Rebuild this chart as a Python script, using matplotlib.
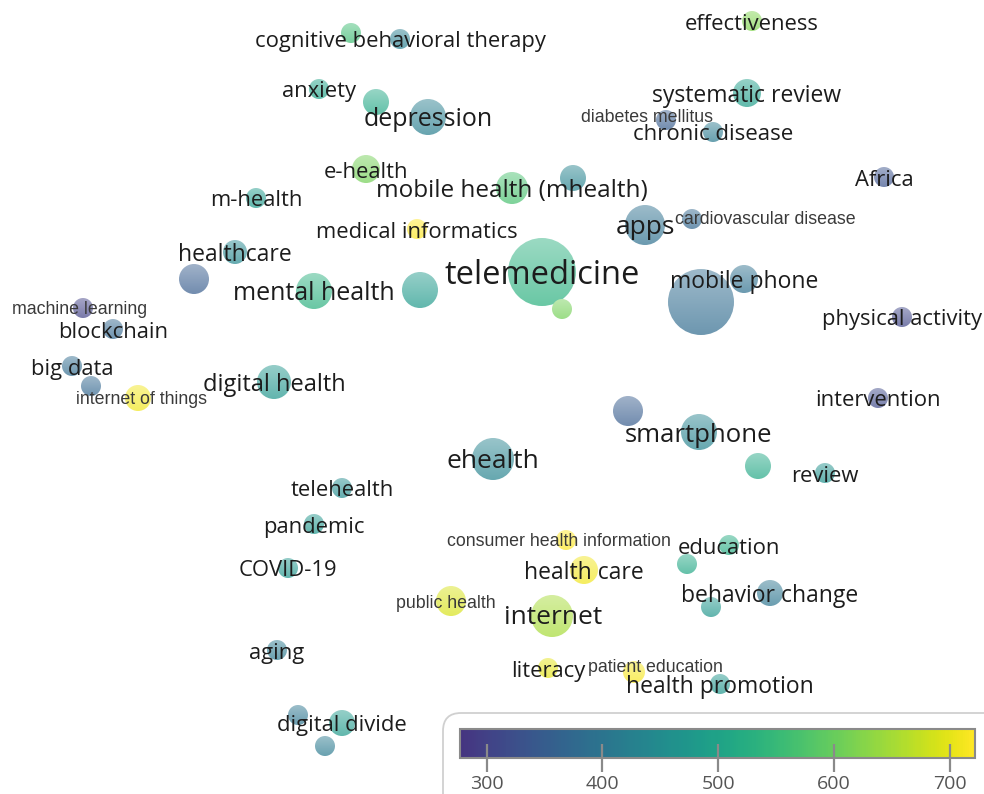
import numpy as np
import matplotlib
matplotlib.use('Agg')
import matplotlib.pyplot as plt
from matplotlib.patches import Circle, FancyBboxPatch
from matplotlib.colors import ListedColormap, Normalize
from matplotlib.cm import ScalarMappable

# --- keyword map (VOSviewer overlay style), coordinates ---
terms = [
    '', 'cognitive behavioral therapy', 'anxiety', '', 'depression',
    'e-health', 'm-health', 'medical informatics', 'healthcare', '',
    'mental health', '', 'machine learning', 'blockchain', 'big data',
    '', 'internet of things', 'digital health', 'telehealth', 'pandemic',
    'COVID-19', 'public health', 'aging', '', 'digital divide',
    '', 'effectiveness', 'systematic review', 'diabetes mellitus', 'chronic disease',
    'Africa', 'cardiovascular disease', 'apps', '', 'mobile health (mhealth)',
    'telemedicine', '', '', 'mobile phone', 'physical activity',
    'intervention', '', 'review', '', 'smartphone',
    'ehealth', 'consumer health information', 'health care', 'internet', 'literacy',
    'patient education', '', 'education', 'behavior change', '',
    'health promotion',
]
map_x = [
    351, 400, 319, 376, 428,
    366, 256, 417, 235, 194,
    314, 420, 83, 113, 72,
    91, 138, 274, 342, 314,
    288, 451, 277, 298, 342,
    325, 752, 747, 666, 713,
    884, 692, 645, 573, 512,
    542, 562, 701, 744, 902,
    878, 758, 825, 628, 699,
    493, 566, 584, 552, 548,
    634, 687, 729, 770, 711,
    720,
]
map_y = [
    33, 39, 89, 102, 117,
    169, 198, 229, 252, 279,
    291, 290, 308, 329, 366,
    386, 398, 382, 488, 524,
    568, 601, 650, 715, 723,
    746, 21, 93, 120, 132,
    177, 219, 225, 178, 188,
    272, 309, 302, 279, 317,
    398, 466, 473, 411, 432,
    459, 540, 570, 616, 668,
    672, 564, 545, 593, 607,
    684,
]
weight = [
    10, 10, 10, 13, 18,
    14, 10, 10, 12, 15,
    18, 18, 10, 10, 10,
    10, 13, 17, 10, 10,
    10, 15, 10, 10, 13,
    10, 10, 14, 10, 10,
    10, 10, 20, 13, 16,
    34, 10, 33, 14, 10,
    10, 13, 10, 15, 18,
    21, 10, 14, 21, 10,
    11, 10, 10, 13, 10,
    10,
]
score = [
    560, 420, 500, 510, 420,
    610, 480, 720, 440, 350,
    530, 480, 300, 370, 380,
    370, 710, 470, 450, 470,
    470, 690, 410, 400, 480,
    410, 620, 490, 350, 410,
    330, 370, 390, 430, 570,
    530, 610, 380, 390, 310,
    315, 510, 460, 350, 430,
    430, 720, 710, 650, 700,
    715, 510, 520, 400, 470,
    470,
]
cbar_ticks = [300, 400, 500, 600, 700]
score_min, score_max = 277, 722

# label styles
big_labels = {'telemedicine': 23.5}
mid_labels = {'depression': 18, 'mental health': 18, 'ehealth': 19, 'internet': 19,
              'apps': 19, 'smartphone': 18.5, 'mobile health (mhealth)': 17.5,
              'digital health': 17, 'mobile phone': 16.5, 'systematic review': 16.5,
              'healthcare': 16.5, 'behavior change': 16.5, 'health care': 16.5,
              'health promotion': 16.5, 'chronic disease': 16}
small_arial = {'machine learning', 'internet of things', 'diabetes mellitus',
               'cardiovascular disease', 'consumer health information',
               'public health', 'patient education'}
label_shift = {'diabetes mellitus': (-19, -4), 'cardiovascular disease': (73, -2),
               'public health': (-5, 0), 'consumer health information': (-7, 0),
               'patient education': (21, -7), 'internet of things': (4, 0),
               'machine learning': (-3, -1), 'internet': (1, -2)}

base = plt.get_cmap('viridis')
cmap = ListedColormap(base(np.linspace(0.15, 1.0, 256)))
norm = Normalize(score_min, score_max)

fig = plt.figure(figsize=(9.84, 7.94), dpi=100)
ax = fig.add_axes([0, 0, 1, 1])
ax.axis('off')

ramp = np.linspace(0, 1, 64)[:, None, None]
for i in range(len(terms)):
    x, y, r = map_x[i], map_y[i], weight[i]
    c = np.array(cmap(norm(score[i]))[:3])
    top = c * 0.47 + 0.53
    bot = c * 0.7 + 0.3
    img = top[None, None, :] * (1 - ramp) + bot[None, None, :] * ramp
    circ = Circle((x, y), r, facecolor='none', edgecolor='none')
    ax.add_patch(circ)
    im = ax.imshow(img, extent=(x - r, x + r, y + r, y - r), origin='upper',
                   interpolation='bilinear', aspect='auto', zorder=2)
    im.set_clip_path(circ)

for i, t in enumerate(terms):
    if not t:
        continue
    dx, dy = label_shift.get(t, (0, 0))
    if t in small_arial:
        ax.text(map_x[i] + dx, map_y[i] + dy + 2, t, fontsize=12.8, family='Liberation Sans',
                color='#3a3a3a', ha='center', va='center', zorder=5)
    else:
        fs = big_labels.get(t, mid_labels.get(t, 15.8))
        ax.text(map_x[i] + dx, map_y[i] + dy + 3, t, fontsize=fs, family='Open Sans',
                color='#1c1c1c', ha='center', va='center', zorder=5)

# legend frame with colour bar
box = FancyBboxPatch((443, 713), 600, 150, boxstyle='round,pad=0,rounding_size=18',
                     facecolor='white', edgecolor='#d0d0d0', linewidth=1.3, zorder=6)
ax.add_patch(box)

ax.set_xlim(0, 984)
ax.set_ylim(794, 0)

cax = fig.add_axes([460 / 984, 1 - 758 / 794, 515 / 984, 29 / 794])
cb = fig.colorbar(ScalarMappable(norm=norm, cmap=cmap), cax=cax, orientation='horizontal')
cb.set_ticks(cbar_ticks)
cb.outline.set_edgecolor('#8a8a8a')
cb.outline.set_linewidth(1.5)
cax.tick_params(direction='inout', length=20, width=1.6, color='#8a8a8a',
                labelsize=14, labelcolor='#555555', pad=2)
for lab in cax.get_xticklabels():
    lab.set_family('Open Sans')

fig.savefig('out.png', dpi=100)
